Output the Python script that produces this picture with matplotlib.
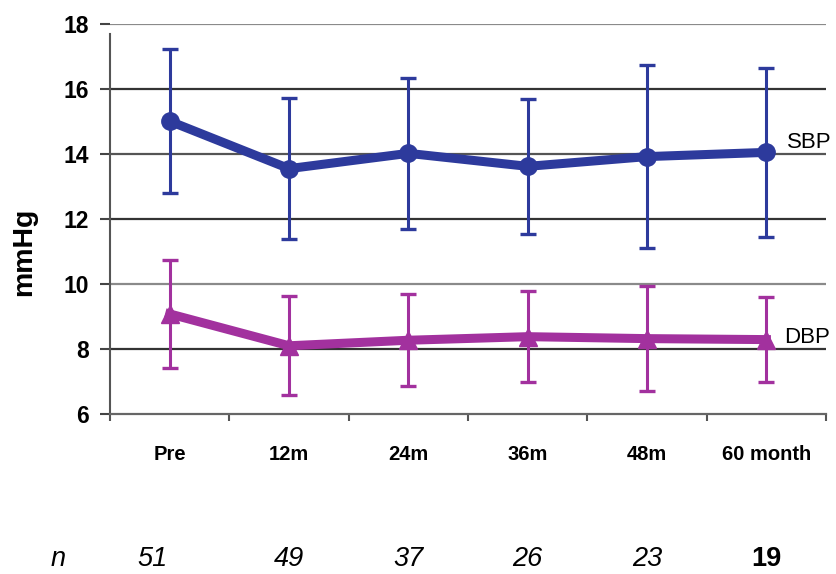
import matplotlib.pyplot as plt
import matplotlib.transforms as mtransforms

plt.rcParams['font.family'] = ['Liberation Sans', 'DejaVu Sans']

# datos
periods = ['Pre', '12m', '24m', '36m', '48m', '60 month']
n_patients = ['51', '49', '37', '26', '23', '19']

sbp_mean = [15.01, 13.55, 14.02, 13.62, 13.92, 14.05]
sbp_sd = [2.22, 2.17, 2.33, 2.08, 2.82, 2.60]

dbp_mean = [9.08, 8.10, 8.27, 8.38, 8.32, 8.29]
dbp_sd = [1.66, 1.52, 1.42, 1.40, 1.62, 1.31]

sbp_color = '#2D3A9C'
dbp_color = '#A2319E'

fig = plt.figure(figsize=(8.36, 5.74), dpi=100)
ax = fig.add_axes([0.1316, 0.2787, 0.8565, 0.6795])

x = list(range(len(periods)))

# lineas horizontales
grid_colors = {8: '#333333', 10: '#8a8a8a', 12: '#333333',
               14: '#555555', 16: '#333333', 18: '#8a8a8a'}
for yv, c in grid_colors.items():
    ax.axhline(yv, color=c, lw=1.6, zorder=1)

# SBP
ax.errorbar(x, sbp_mean, yerr=sbp_sd, color=sbp_color, lw=6.5, marker='o',
            ms=12.5, elinewidth=2.2, capsize=6, capthick=2.4, zorder=3)
# DBP
ax.errorbar(x, dbp_mean, yerr=dbp_sd, color=dbp_color, lw=6.5, marker='^',
            ms=13, elinewidth=2.2, capsize=6, capthick=2.4, zorder=3)

ax.set_xlim(-0.5, 5.5)
ax.set_ylim(6, 18)
ax.set_yticks([6, 8, 10, 12, 14, 16, 18])
ax.tick_params(axis='y', direction='out', length=7, width=1.5,
               color='#444444', pad=8, labelsize=16.5)
for lab in ax.get_yticklabels():
    lab.set_fontweight('bold')

# ticks del eje x en los limites de categoria, etiquetas en el centro
ax.set_xticks([i - 0.5 for i in range(len(periods) + 1)])
ax.set_xticklabels([])
ax.tick_params(axis='x', which='major', direction='out', length=5, width=1.5,
               color='#555555')
ax.set_xticks(x, minor=True)
ax.set_xticklabels(periods, minor=True, fontsize=14.5, fontweight='bold')
ax.tick_params(axis='x', which='minor', length=0, pad=22)

for side in ['top', 'right']:
    ax.spines[side].set_visible(False)
ax.spines['left'].set_color('#555555')
ax.spines['left'].set_linewidth(1.5)
ax.spines['left'].set_bounds(6, 17.7)
ax.spines['bottom'].set_color('#666666')
ax.spines['bottom'].set_linewidth(1.6)

# etiquetas de las series
ax.text(5.17, 14.35, 'SBP', fontsize=16, va='center', ha='left')
ax.text(5.15, 8.35, 'DBP', fontsize=16, va='center', ha='left')

fig.text(24 / 836, 1 - 252 / 574, 'mmHg', rotation=90, fontsize=20.5,
         fontweight='bold', ha='center', va='center')

# fila de n
n_y = 1 - 559 / 574
trans = mtransforms.blended_transform_factory(ax.transData, fig.transFigure)
fig.text(58 / 836, n_y, 'n', fontsize=19.5, style='italic',
         ha='center', va='center')
for i, nv in enumerate(n_patients):
    xi = i - 0.14 if i == 0 else i
    if i == len(n_patients) - 1:
        ax.text(xi, n_y, nv, transform=trans, fontsize=19.5,
                fontweight='bold', ha='center', va='center')
    else:
        ax.text(xi, n_y, nv, transform=trans, fontsize=19.5,
                style='italic', ha='center', va='center')

fig.savefig('out.png', dpi=100)
